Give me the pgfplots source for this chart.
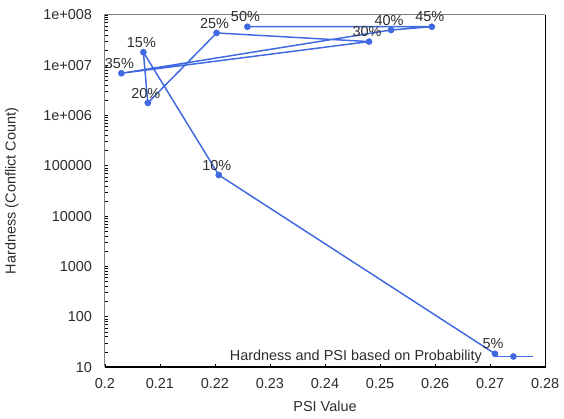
\documentclass[border=0pt]{standalone}
\usepackage{pgfplots}
\pgfplotsset{compat=1.18}
\usepackage{fontspec}
\setmainfont{Liberation Sans}
\definecolor{lineblue}{RGB}{65,105,225}
\definecolor{txt}{RGB}{45,45,45}
\definecolor{framegray}{RGB}{128,128,128}
\newcommand{\myfont}{\fontsize{14.6}{17}\selectfont}
\begin{document}
\myfont
\begin{tikzpicture}
\path (0,0) rectangle (564pt,423pt);
\begin{axis}[
  at={(106pt,52pt)}, anchor=south west,
  scale only axis, width=445pt, height=356pt,
  xmin=0.2, xmax=0.28, ymin=10, ymax=1e8,
  ymode=log,
  xtick={0.2,0.21,0.22,0.23,0.24,0.25,0.26,0.27,0.28},
  xticklabels={0.2,0.21,0.22,0.23,0.24,0.25,0.26,0.27,0.28},
  ytick={10,100,1000,10000,100000,1000000,10000000,100000000},
  yticklabels={10,100,1000,10000,100000,1e+006,1e+007,1e+008},
  minor tick num=0, minor ytick={},
  tick pos=left, tick align=inside,
  major tick length=3pt,
  tick style={black, line width=0.6pt},
  axis line style={draw=none},
  ticklabel style={font=\myfont, text=txt},
  xticklabel style={yshift=-6pt},
  yticklabel style={xshift=-8pt},
  /pgf/number format/assume math mode=true,
  xlabel={PSI Value},
  ylabel={Hardness (Conflict Count)},
  label style={font=\myfont, text=txt},
  xlabel style={at={(axis description cs:0.5,-0.112)}, anchor=center},
  ylabel style={at={(axis description cs:-0.211,0.5)}, anchor=center},
  legend plot pos=right,
  legend style={draw=none, fill=none, at={(0.975,0.03)}, anchor=east,
    font=\myfont, text=txt, inner sep=0pt,
    /tikz/every odd column/.append style={column sep=9pt}},
  legend image code/.code={\draw[#1,mark repeat=2,mark phase=2] plot coordinates {(0pt,0pt) (20pt,0pt) (40pt,0pt)};},
  clip=false,
]
\addplot[color=lineblue, line width=1.5pt, mark=*, mark size=2.6pt,
  mark options={fill=lineblue, draw=lineblue},
  nodes near coords={\pgfplotspointmeta},
  point meta=explicit symbolic,
  every node near coord/.append style={anchor=base, inner sep=0pt, yshift=5pt, xshift=-2pt, text=txt, font=\myfont},
] table[x=x, y=y, meta=lab] {
x y lab
0.2709 18.3 5\%
0.2207 65600 10\%
0.2070 1.81e7 15\%
0.2078 1.77e6 20\%
0.2203 4.36e7 25\%
0.2480 2.94e7 30\%
0.2030 6.9e6 35\%
0.2520 5.0e7 40\%
0.2594 5.8e7 45\%
0.2259 5.8e7 50\%
};
\addlegendentry{Hardness and PSI based on Probability}
\draw[framegray, line width=1.2pt] (rel axis cs:0,0) -- (rel axis cs:0,1) -- (rel axis cs:1,1);
\draw[black, line width=1.2pt] (rel axis cs:0,0) -- (rel axis cs:1,0) -- (rel axis cs:1,1);
\end{axis}
\end{tikzpicture}
\end{document}
